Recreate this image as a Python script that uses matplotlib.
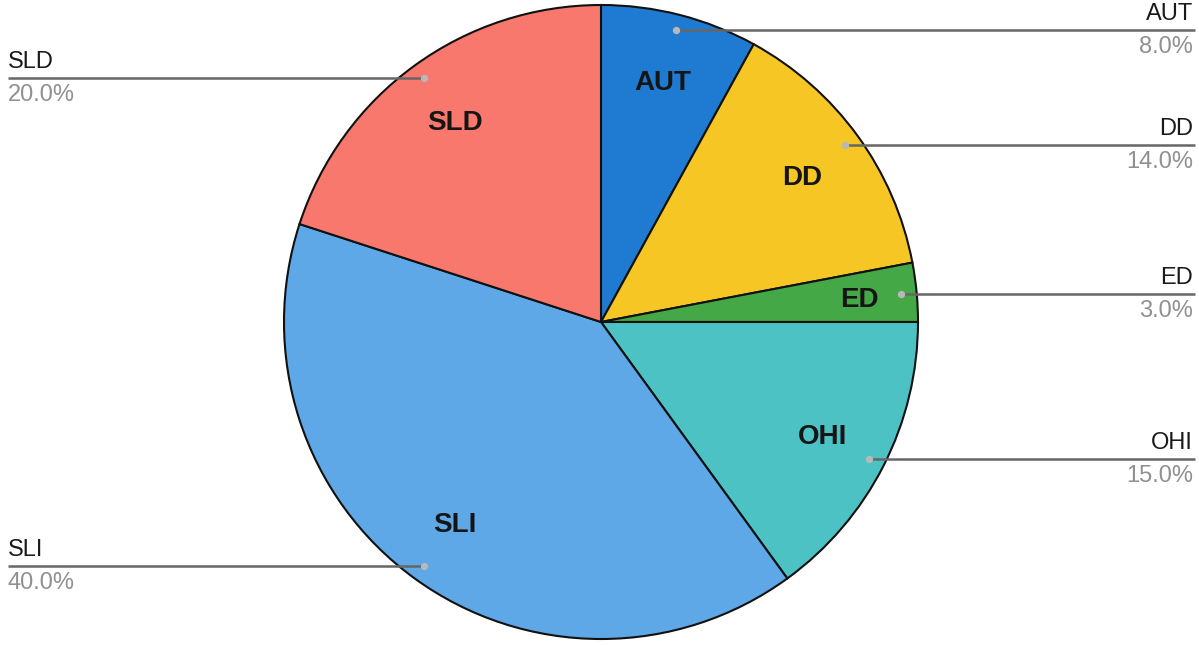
import numpy as np
import matplotlib
matplotlib.use("Agg")
import matplotlib.pyplot as plt

plt.rcParams["font.family"] = ["Liberation Sans", "DejaVu Sans"]

# slices, clockwise from 12 o'clock
labels = ["AUT", "DD", "ED", "OHI", "SLI", "SLD"]
shares = [8.0, 14.0, 3.0, 15.0, 40.0, 20.0]
colors = ["#1f7bd1", "#f6c624", "#45a847", "#4cc2c4", "#5ea8e8", "#f8786d"]

W, H = 1199, 645
cx, cy = 601, H - 322
R = 317

fig = plt.figure(figsize=(W / 100, H / 100), dpi=100)
ax = fig.add_axes([0, 0, 1, 1])

wedges, _ = ax.pie(
    shares,
    colors=colors,
    startangle=90,
    counterclock=False,
    center=(cx, cy),
    radius=R,
    frame=True,
    wedgeprops=dict(edgecolor="#111111", linewidth=1.5),
)

ax.set_xlim(0, W)
ax.set_ylim(0, H)
ax.set_aspect("equal")
ax.axis("off")

# inner label distance (small ED slice pushed outward)
inner_r = {"ED": 0.82}

for w, name, val in zip(wedges, labels, shares):
    ang = np.radians((w.theta1 + w.theta2) / 2)
    # bold name inside slice
    f = inner_r.get(name, 0.785)
    ax.text(cx + f * R * np.cos(ang), cy + f * R * np.sin(ang) - 2, name,
            ha="center", va="center", fontsize=20, fontweight="bold",
            color="#151515")

    # leader line from anchor inside slice to the figure edge
    ax_x = cx + 0.95 * R * np.cos(ang)
    ax_y = cy + 0.95 * R * np.sin(ang)
    right = np.cos(ang) > 0
    end_x = 1195 if right else 8
    ax.plot([ax_x, end_x], [ax_y, ax_y], color="#666666", lw=1.8,
            solid_capstyle="butt", zorder=3)
    ax.scatter([ax_x], [ax_y], s=18, color="#b8b8b8", zorder=4)

    ha = "right" if right else "left"
    tx = 1193 if right else 8
    ax.text(tx, ax_y + 5, name, ha=ha, va="bottom", fontsize=17,
            color="#1a1a1a")
    ax.text(tx, ax_y - 6, f"{val:.1f}%", ha=ha, va="top", fontsize=17,
            color="#909090")

fig.savefig("out.png", dpi=100, facecolor="white")
